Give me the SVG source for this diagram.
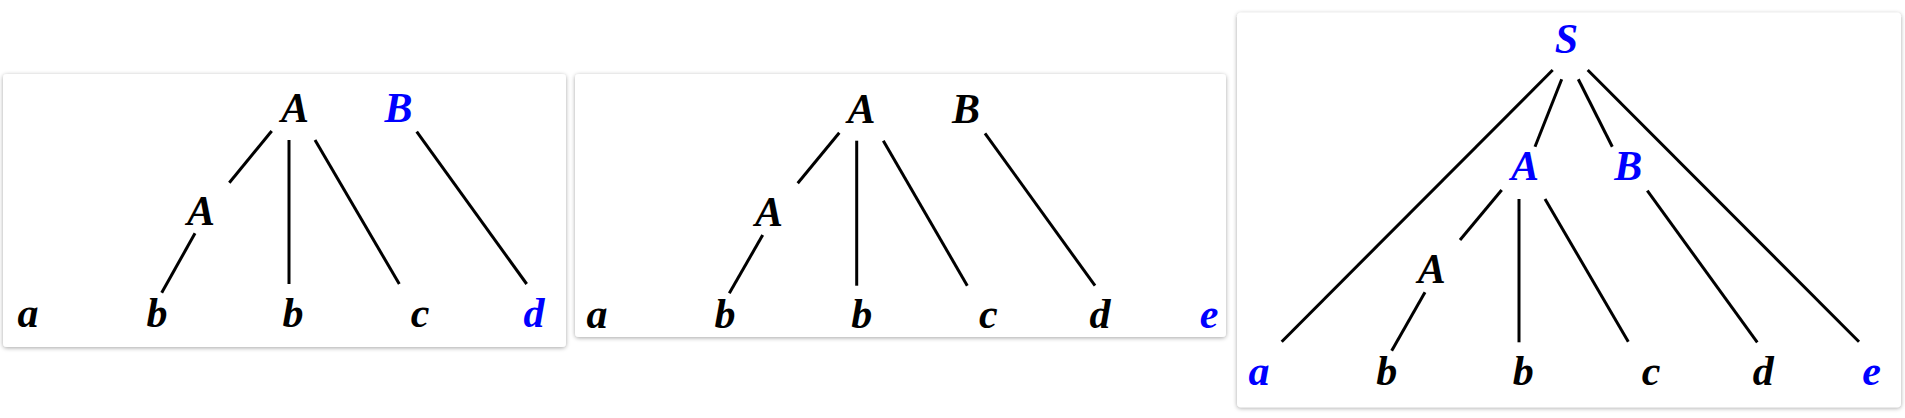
<svg xmlns="http://www.w3.org/2000/svg" width="1905" height="418" viewBox="0 0 1905 418">
  <defs>
    <filter id="shadow" x="-5%" y="-5%" width="110%" height="110%">
      <feDropShadow dx="0" dy="1" stdDeviation="2" flood-color="#000" flood-opacity="0.35"/>
    </filter>
  </defs>
  <style>
    .card { fill: #ffffff; filter: url(#shadow); }
    .t { font-family: "Liberation Serif", "Times New Roman", serif; font-weight: bold; font-style: italic; font-size: 42px; text-anchor: middle; fill: #000000; }
    .blue { fill: #0000ff; }
    .edge { stroke: #000000; stroke-width: 3; fill: none; }
  </style>
  <rect x="0" y="0" width="1905" height="418" fill="#ffffff"/>

  <!-- Panel 1 -->
  <g id="panel1">
    <rect class="card" x="3" y="74" width="563" height="273" rx="4"/>
    <g id="p1-connectors">
      <line class="edge" x1="271.7" y1="131" x2="229.3" y2="182.7"/>
      <line class="edge" x1="289" y1="140" x2="289" y2="284"/>
      <line class="edge" x1="315" y1="140" x2="399.3" y2="284"/>
      <line class="edge" x1="195" y1="233.3" x2="161.7" y2="292.7"/>
      <line class="edge" x1="416.7" y1="131.7" x2="526.7" y2="284"/>
    </g>
    <g id="p1-A1"><text class="t" x="295" y="122">A</text></g>
    <g id="p1-B"><text class="t blue" x="398.5" y="122">B</text></g>
    <g id="p1-A2"><text class="t" x="201" y="225">A</text></g>
    <g id="p1-a"><text class="t" x="28" y="327">a</text></g>
    <g id="p1-b1"><text class="t" x="157" y="327">b</text></g>
    <g id="p1-b2"><text class="t" x="293" y="327">b</text></g>
    <g id="p1-c"><text class="t" x="420" y="327">c</text></g>
    <g id="p1-d"><text class="t blue" x="534" y="327">d</text></g>
  </g>

  <!-- Panel 2 -->
  <g id="panel2">
    <rect class="card" x="575" y="74" width="651" height="263" rx="4"/>
    <g id="p2-connectors">
      <line class="edge" x1="839.3" y1="132.7" x2="797.7" y2="183.3"/>
      <line class="edge" x1="856.7" y1="140.7" x2="856.7" y2="285.7"/>
      <line class="edge" x1="883.3" y1="140.7" x2="967.3" y2="285.7"/>
      <line class="edge" x1="762.7" y1="235" x2="729.3" y2="293.3"/>
      <line class="edge" x1="985" y1="133.3" x2="1095" y2="285.7"/>
    </g>
    <g id="p2-A1"><text class="t" x="861.5" y="123">A</text></g>
    <g id="p2-B"><text class="t" x="966" y="123">B</text></g>
    <g id="p2-A2"><text class="t" x="769" y="226">A</text></g>
    <g id="p2-a"><text class="t" x="597" y="328">a</text></g>
    <g id="p2-b1"><text class="t" x="725" y="328">b</text></g>
    <g id="p2-b2"><text class="t" x="861.7" y="328">b</text></g>
    <g id="p2-c"><text class="t" x="988.3" y="328">c</text></g>
    <g id="p2-d"><text class="t" x="1100" y="328">d</text></g>
    <g id="p2-e"><text class="t blue" x="1209" y="328">e</text></g>
  </g>

  <!-- Panel 3 -->
  <g id="panel3">
    <rect class="card" x="1237" y="12.7" width="664" height="394.6" rx="4"/>
    <g id="p3-connectors">
      <line class="edge" x1="1552.7" y1="70" x2="1281.7" y2="341.7"/>
      <line class="edge" x1="1561.7" y1="79.3" x2="1535" y2="146.7"/>
      <line class="edge" x1="1578.3" y1="79.3" x2="1612.3" y2="146.7"/>
      <line class="edge" x1="1587.7" y1="70" x2="1859" y2="341.7"/>
      <line class="edge" x1="1501.7" y1="190" x2="1460" y2="240"/>
      <line class="edge" x1="1519" y1="199" x2="1519" y2="342.3"/>
      <line class="edge" x1="1545" y1="199" x2="1628.3" y2="341.7"/>
      <line class="edge" x1="1425" y1="292.3" x2="1391.7" y2="350.7"/>
      <line class="edge" x1="1647.3" y1="190.7" x2="1757.3" y2="342.3"/>
    </g>
    <g id="p3-S"><text class="t blue" x="1566.5" y="53.3">S</text></g>
    <g id="p3-A1"><text class="t blue" x="1525" y="180">A</text></g>
    <g id="p3-B"><text class="t blue" x="1628.3" y="180">B</text></g>
    <g id="p3-A2"><text class="t" x="1431.7" y="283.3">A</text></g>
    <g id="p3-a"><text class="t blue" x="1259" y="385">a</text></g>
    <g id="p3-b1"><text class="t" x="1386.7" y="385">b</text></g>
    <g id="p3-b2"><text class="t" x="1523.3" y="385">b</text></g>
    <g id="p3-c"><text class="t" x="1651" y="385">c</text></g>
    <g id="p3-d"><text class="t" x="1763.3" y="385">d</text></g>
    <g id="p3-e"><text class="t blue" x="1871.7" y="385">e</text></g>
  </g>
</svg>
